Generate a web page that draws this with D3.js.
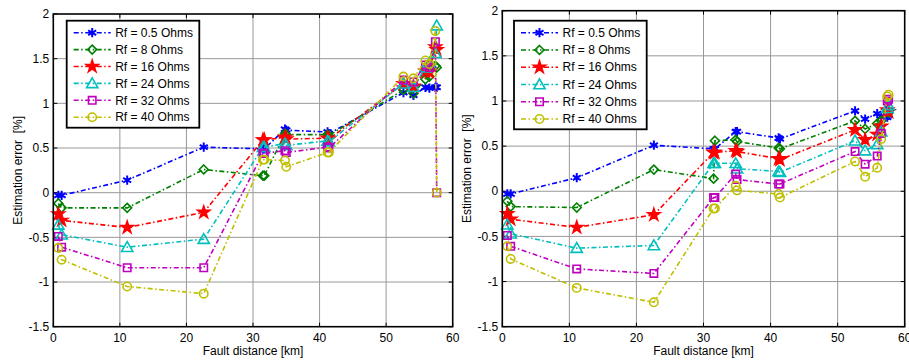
<!DOCTYPE html>
<html>
<head>
<meta charset="utf-8">
<script src="https://cdn.jsdelivr.net/npm/d3@7"></script>
<style>
  body { margin: 0; background: #fff; }
  svg { display: block; font-family: Arial, "Liberation Sans", sans-serif; }
</style>
</head>
<body>
<svg id="chart" width="909" height="362"></svg>
<script>
// fault distances [km] shared by every curve
var faultKm = [0.75, 1.25, 11.1, 22.6, 31.5, 31.7, 34.8, 35.0, 41.2, 41.4, 52.6, 54.1, 55.9, 56.5, 57.4, 57.6];
var legendLabels = ["Rf = 0.5 Ohms", "Rf = 8 Ohms", "Rf = 16 Ohms", "Rf = 24 Ohms", "Rf = 32 Ohms", "Rf = 40 Ohms"];
var xTicks = [0, 10, 20, 30, 40, 50, 60];
var yTicks = [-1.5, -1, -0.5, 0, 0.5, 1, 1.5, 2];

// left panel, estimation error [%]
var leftRf05 = [-0.03, -0.03, 0.14, 0.51, 0.49, 0.49, 0.71, 0.70, 0.68, 0.66, 1.12, 1.09, 1.18, 1.17, 1.18, 1.18];
var leftRf8  = [-0.12, -0.17, -0.17, 0.26, 0.19, 0.19, 0.66, 0.65, 0.65, 0.64, 1.15, 1.11, 1.27, 1.30, 1.42, 1.40];
var leftRf16 = [-0.24, -0.31, -0.39, -0.22, 0.59, 0.59, 0.62, 0.60, 0.61, 0.60, 1.22, 1.19, 1.36, 1.35, 1.63, 1.60];
var leftRf24 = [-0.36, -0.47, -0.61, -0.52, 0.51, 0.51, 0.55, 0.53, 0.58, 0.57, 1.22, 1.18, 1.40, 1.45, 1.56, 1.87];
var leftRf32 = [-0.49, -0.61, -0.84, -0.84, 0.44, 0.44, 0.47, 0.45, 0.51, 0.50, 1.26, 1.24, 1.43, 1.40, 1.69, 0];
var leftRf40 = [-0.62, -0.75, -1.05, -1.13, 0.37, 0.37, 0.36, 0.29, 0.45, 0.45, 1.30, 1.28, 1.48, 1.44, 1.81, 0];

// right panel, estimation error [%]
var rightRf05 = [-0.03, -0.03, 0.15, 0.51, 0.47, 0.47, 0.66, 0.66, 0.59, 0.58, 0.89, 0.80, 0.86, 0.83, 0.82, 0.84];
var rightRf8  = [-0.11, -0.17, -0.18, 0.24, 0.14, 0.56, 0.57, 0.55, 0.48, 0.47, 0.78, 0.69, 0.75, 0.78, 0.88, 0.87];
var rightRf16 = [-0.25, -0.31, -0.40, -0.26, 0.43, 0.43, 0.45, 0.44, 0.36, 0.35, 0.68, 0.57, 0.63, 0.72, 0.90, 0.88];
var rightRf24 = [-0.37, -0.47, -0.63, -0.60, 0.31, 0.31, 0.31, 0.25, 0.22, 0.21, 0.56, 0.45, 0.52, 0.66, 0.92, 0.95];
var rightRf32 = [-0.49, -0.61, -0.86, -0.91, -0.07, -0.07, 0.19, 0.13, 0.08, 0.08, 0.44, 0.30, 0.39, 0.64, 1.00, 1.02];
var rightRf40 = [-0.61, -0.75, -1.07, -1.23, -0.19, -0.19, 0.06, 0.01, -0.03, -0.07, 0.33, 0.16, 0.26, 0.58, 1.05, 1.07];

var colors = ["#0000ff", "#008000", "#ff0000", "#00bfbf", "#bf00bf", "#bfbf00"];

// MATLAB-like diamond: a square turned 45 degrees
var symbolDiamondSq = {
  draw: function(ctx, size) {
    var r = Math.sqrt(size / 2);
    ctx.moveTo(0, -r); ctx.lineTo(r, 0); ctx.lineTo(0, r); ctx.lineTo(-r, 0); ctx.closePath();
  }
};
// marker per curve: asterisk, diamond, star(pentagram), triangle, square, circle
var symbols = [d3.symbolAsterisk, symbolDiamondSq, d3.symbolStar, d3.symbolTriangle, d3.symbolSquare, d3.symbolCircle];
var symSizes = [60, 40, 45, 55, 55, 55];

var svg = d3.select("#chart");

function drawPanel(p, series) {
  var x = d3.scaleLinear().domain([0, 60]).range([p.x0, p.x1]);
  var y = d3.scaleLinear().domain([-1.5, 2]).range([p.y1, p.y0]);
  var g = svg.append("g");

  // grid
  g.selectAll(".gx").data(xTicks.slice(1, -1)).enter().append("line")
    .attr("x1", d => x(d)).attr("x2", d => x(d)).attr("y1", p.y0).attr("y2", p.y1)
    .attr("stroke", "#999").attr("stroke-width", 1);
  g.selectAll(".gy").data(yTicks.slice(1, -1)).enter().append("line")
    .attr("y1", d => y(d)).attr("y2", d => y(d)).attr("x1", p.x0).attr("x2", p.x1)
    .attr("stroke", "#999").attr("stroke-width", 1);

  // ticks inside the box on all four sides
  var tk = 4;
  xTicks.forEach(function(d) {
    g.append("line").attr("x1", x(d)).attr("x2", x(d)).attr("y1", p.y1).attr("y2", p.y1 - tk).attr("stroke", "#000");
    g.append("line").attr("x1", x(d)).attr("x2", x(d)).attr("y1", p.y0).attr("y2", p.y0 + tk).attr("stroke", "#000");
  });
  yTicks.forEach(function(d) {
    g.append("line").attr("y1", y(d)).attr("y2", y(d)).attr("x1", p.x0).attr("x2", p.x0 + tk).attr("stroke", "#000");
    g.append("line").attr("y1", y(d)).attr("y2", y(d)).attr("x1", p.x1).attr("x2", p.x1 - tk).attr("stroke", "#000");
  });

  // tick labels
  g.selectAll(".tx").data(xTicks).enter().append("text")
    .attr("x", d => x(d)).attr("y", p.y1 + 15)
    .attr("text-anchor", "middle").attr("font-size", 12).text(d => String(d));
  g.selectAll(".ty").data(yTicks).enter().append("text")
    .attr("x", p.x0 - 4).attr("y", d => y(d)).attr("dy", "0.35em")
    .attr("text-anchor", "end").attr("font-size", 12).text(d => String(d));

  // axis titles
  g.append("text").attr("x", (p.x0 + p.x1) / 2).attr("y", 355)
    .attr("text-anchor", "middle").attr("font-size", 12).text("Fault distance [km]");
  g.append("text").attr("transform", "translate(" + p.yLabelX + "," + ((p.y0 + p.y1) / 2) + ") rotate(-90)")
    .attr("text-anchor", "middle").attr("font-size", 12).attr("xml:space", "preserve").text("Estimation error  [%]");

  // curves
  var line = d3.line().x((d, i) => x(faultKm[i])).y(d => y(d));
  series.forEach(function(vals, k) {
    var s = g.append("g");
    s.append("path").datum(vals).attr("d", line)
      .attr("fill", "none").attr("stroke", colors[k]).attr("stroke-width", 1.6)
      .attr("stroke-dasharray", "5,2.5,1.5,2.5");
    var sym = d3.symbol().type(symbols[k]).size(symSizes[k]);
    s.selectAll("path.m").data(vals).enter().append("path").attr("class", "m")
      .attr("transform", (d, i) => "translate(" + x(faultKm[i]) + "," + (y(d) + (k == 3 ? 1 : 0)) + ")")
      .attr("d", sym)
      .attr("fill", k == 2 ? colors[k] : "none")
      .attr("stroke", colors[k]).attr("stroke-width", k == 0 ? 2 : 1.6);
  });

  // box
  g.append("rect").attr("x", p.x0).attr("y", p.y0).attr("width", p.x1 - p.x0).attr("height", p.y1 - p.y0)
    .attr("fill", "none").attr("stroke", "#000").attr("stroke-width", 1.6);

  // legend
  var L = p.legend;
  var lg = g.append("g");
  lg.append("rect").attr("x", L.x).attr("y", L.y).attr("width", L.w).attr("height", L.h)
    .attr("fill", "#fff").attr("stroke", "#000").attr("stroke-width", 1.8);
  legendLabels.forEach(function(lab, k) {
    var ry = L.y + 12 + k * L.row;
    lg.append("line").attr("x1", L.x + 7).attr("x2", L.x + 44).attr("y1", ry).attr("y2", ry)
      .attr("stroke", colors[k]).attr("stroke-width", 1.6).attr("stroke-dasharray", "5,2.5,1.5,2.5");
    lg.append("path").attr("transform", "translate(" + (L.x + 25.5) + "," + (ry + (k == 3 ? 1 : 0)) + ")")
      .attr("d", d3.symbol().type(symbols[k]).size(symSizes[k]))
      .attr("fill", k == 2 ? colors[k] : "none").attr("stroke", colors[k]).attr("stroke-width", k == 0 ? 2 : 1.6);
    lg.append("text").attr("x", L.x + 48.5).attr("y", ry).attr("dy", "0.35em")
      .attr("font-size", 12).text(lab);
  });
}

drawPanel({x0: 53.3, x1: 452.7, y0: 14, y1: 326.7, yLabelX: 21.5,
           legend: {x: 66.7, y: 20.7, w: 132.6, h: 107, row: 16.9}},
          [leftRf05, leftRf8, leftRf16, leftRf24, leftRf32, leftRf40]);
drawPanel({x0: 502.3, x1: 904.7, y0: 10.7, y1: 326.7, yLabelX: 471,
           legend: {x: 514, y: 20.7, w: 132.7, h: 108.6, row: 17.26}},
          [rightRf05, rightRf8, rightRf16, rightRf24, rightRf32, rightRf40]);
</script>
</body>
</html>
